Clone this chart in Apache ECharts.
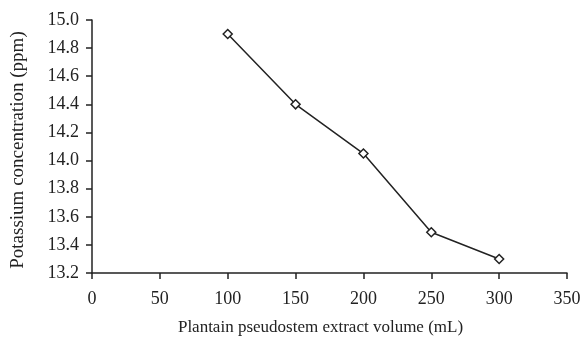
<!DOCTYPE html>
<html><head><meta charset="utf-8">
<script src="https://cdn.jsdelivr.net/npm/echarts@6/dist/echarts.min.js"></script>
<style>html,body{margin:0;padding:0;background:#fff}#c{width:583px;height:337px}</style>
</head><body><div id="c"></div>
<script>
const volumes = [100, 150, 200, 250, 300];
const potassium = [14.9, 14.4, 14.05, 13.49, 13.3];
const xName = 'Plantain pseudostem extract volume (mL)';
const yName = 'Potassium concentration (ppm)';
const ink = '#222';
const font = 'Liberation Serif';
const chart = echarts.init(document.getElementById('c'));
chart.setOption({
  animation: false,
  grid: {left: 92, right: 16, top: 20, bottom: 64, outerBoundsMode: 'none', containLabel: false},
  xAxis: {
    type: 'value', min: 0, max: 350, interval: 50,
    name: xName, nameLocation: 'middle', nameGap: 46,
    nameTextStyle: {fontFamily: font, fontSize: 17, color: ink, padding: [0, 18, 0, 0]},
    axisLine: {lineStyle: {color: ink, width: 1.5}},
    axisTick: {show: true, length: 6, lineStyle: {color: ink, width: 1.5}},
    axisLabel: {fontFamily: font, fontSize: 18, color: ink, margin: 17},
    splitLine: {show: false}
  },
  yAxis: {
    type: 'value', min: 13.2, max: 15.0, interval: 0.2,
    name: yName, nameLocation: 'middle', nameGap: 64,
    nameTextStyle: {fontFamily: font, fontSize: 19, color: ink, padding: [0, 7, 0, 0]},
    axisLine: {show: true, lineStyle: {color: ink, width: 1.5}},
    axisTick: {show: true, length: 6, lineStyle: {color: ink, width: 1.5}},
    axisLabel: {fontFamily: font, fontSize: 18, color: ink, margin: 13,
      formatter: v => v.toFixed(1)},
    splitLine: {show: false}
  },
  series: [{
    type: 'line',
    data: volumes.map((v, i) => [v, potassium[i]]),
    symbol: 'diamond', symbolSize: 9,
    lineStyle: {color: ink, width: 1.5},
    itemStyle: {color: '#fff', borderColor: ink, borderWidth: 1.5}
  }]
});
</script></body></html>
